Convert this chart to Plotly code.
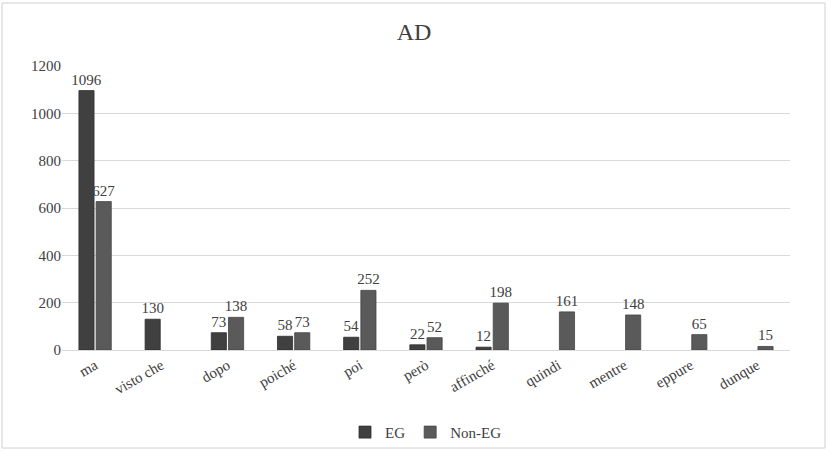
import plotly.graph_objects as go

categories = ["ma", "visto che", "dopo", "poiché", "poi", "però", "affinché", "quindi", "mentre", "eppure", "dunque"]
eg_values = [1096, 130, 73, 58, 54, 22, 12, 0, 0, 0, 0]
non_eg_values = [627, 0, 138, 73, 252, 52, 198, 161, 148, 65, 15]
y_ticks = [0, 200, 400, 600, 800, 1000, 1200]

FONT = "Liberation Serif"
TXT = "#404040"

def labels(vals):
    return [str(v) if v else "" for v in vals]

def heights(vals):
    return [v if v else None for v in vals]

fig = go.Figure()
fig.add_trace(go.Bar(name="EG", x=categories, y=heights(eg_values), text=labels(eg_values),
                     textposition="outside", cliponaxis=False, constraintext="none",
                     marker=dict(color="#404040", line=dict(color="#2e2e2e", width=0.8)),
                     textfont=dict(family=FONT, size=15, color=TXT)))
fig.add_trace(go.Bar(name="Non-EG", x=categories, y=heights(non_eg_values), text=labels(non_eg_values),
                     textposition="outside", cliponaxis=False, constraintext="none",
                     marker=dict(color="#5a5a5a", line=dict(color="#444444", width=0.8)),
                     textfont=dict(family=FONT, size=15, color=TXT)))

fig.update_layout(
    width=828, height=451,
    paper_bgcolor="white", plot_bgcolor="white",
    margin=dict(l=62, r=38, t=66, b=101, autoexpand=False),
    title=dict(text="AD", x=0.5, xanchor="center", y=0.93, yanchor="middle",
               font=dict(family=FONT, size=24, color=TXT)),
    barmode="group", bargap=0.48, bargroupgap=0.12,
    font=dict(family=FONT, size=15, color=TXT),
    legend=dict(orientation="h", x=0.5, xanchor="center", y=-0.29, yanchor="middle",
                bgcolor="rgba(0,0,0,0)",
                font=dict(family=FONT, size=15, color=TXT), itemwidth=30,
                traceorder="normal"),
    showlegend=True,
    shapes=[dict(type="rect", xref="paper", yref="paper", x0=-60/728, x1=1+35/728,
                 y0=-98/284, y1=1+63/284, line=dict(color="#d0d0d0", width=1))],
)
fig.update_xaxes(tickangle=-30, showline=True, linecolor="#d9d9d9", linewidth=1,
                 ticks="", automargin=False, tickfont=dict(family=FONT, size=15, color=TXT))
fig.update_yaxes(range=[0, 1200], tickvals=y_ticks, showgrid=True, gridcolor="#d9d9d9",
                 zeroline=False, showline=False, ticks="", automargin=False,
                 tickfont=dict(family=FONT, size=15, color=TXT))

fig.write_html("out.html", config={"displayModeBar": False},
               post_script="document.body.style.margin='0px';document.body.style.overflow='hidden';")
